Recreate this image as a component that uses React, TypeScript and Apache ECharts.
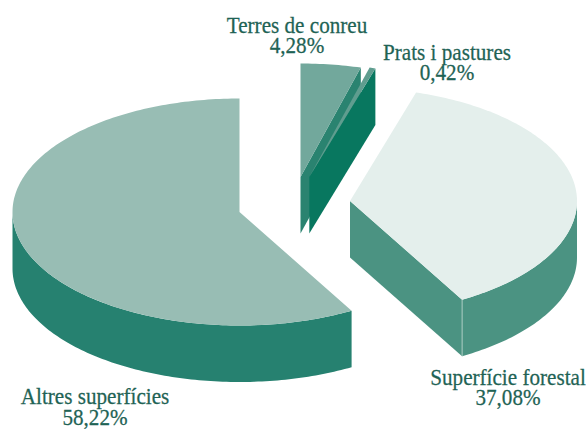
import React, { useEffect, useRef } from "react";
import * as echarts from "echarts";

const categories = ["Terres de conreu", "Prats i pastures", "Superfície forestal", "Altres superfícies"];
const values = [4.28, 0.42, 37.08, 58.22];
const percentLabels = ["4,28%", "0,42%", "37,08%", "58,22%"];

const centers = [[300.5, 177], [309.3, 177], [350, 201], [239.5, 212]];
const topColors = ["#72a89c", "#5f9d8f", "#e4efec", "#98bdb4"];
const wallColors = ["#2a8370", "#08775f", "#4b9382", "#268170"];
const labelBoxes = [[297, 35], [447, 62], [508, 387], [95, 406.5]];

const RX = 227;
const RY = 113.5;
const DEPTH = 56.5;
const TOTAL = values.reduce((a, b) => a + b, 0);

const rad = (d: number) => (d * Math.PI) / 180;
const pt = (c: number[], deg: number, dy = 0) => [
  c[0] + RX * Math.sin(rad(deg)),
  c[1] - RY * Math.cos(rad(deg)) + dy,
];
const arc = (c: number[], a: number, b: number, dy = 0) => {
  const out: number[][] = [];
  const n = Math.max(2, Math.ceil((b - a) / 1));
  for (let i = 0; i <= n; i++) out.push(pt(c, a + ((b - a) * i) / n, dy));
  return out;
};

export default function App() {
  const ref = useRef<HTMLDivElement>(null);
  useEffect(() => {
    const chart = echarts.init(ref.current!, undefined, { renderer: "svg" });
    const renderItem = (params: any, api: any) => {
      const i = params.dataIndex;
      const before = values.slice(0, i).reduce((a, b) => a + b, 0);
      const start = (before / TOTAL) * 360;
      const end = start + (api.value(0) / TOTAL) * 360;
      const c = centers[i];
      const children: any[] = [];
      const wallStyle = { fill: wallColors[i] };
      const wallA = Math.max(start, 90);
      const wallB = Math.min(end, 270);
      if (wallB > wallA) {
        children.push({
          type: "polygon",
          shape: { points: [...arc(c, wallA, wallB), ...arc(c, wallA, wallB, DEPTH).reverse()] },
          style: wallStyle,
        });
      }
      if (Math.sin(rad(end)) > 0.001) {
        const e = pt(c, end);
        children.push({
          type: "polygon",
          shape: { points: [c, e, [e[0], e[1] + DEPTH], [c[0], c[1] + DEPTH]] },
          style: wallStyle,
        });
        if (end > 90) {
          children.push({
            type: "line",
            shape: { x1: e[0], y1: e[1], x2: e[0], y2: e[1] + DEPTH },
            style: { stroke: "#a9cbc2", lineWidth: 1 },
          });
        }
      }
      children.push({
        type: "polygon",
        shape: { points: [c, ...arc(c, start, end)] },
        style: { fill: topColors[i] },
      });
      return { type: "group", children };
    };
    chart.setOption({
      animation: false,
      backgroundColor: "#ffffff",
      series: [
        {
          type: "custom",
          coordinateSystem: "none",
          renderItem,
          data: values.map((v, i) => ({ name: categories[i], value: [v] })),
          silent: true,
        },
      ],
      graphic: categories.map((name, i) => ({
        type: "text",
        x: labelBoxes[i][0],
        y: labelBoxes[i][1],
        scaleX: 0.92,
        style: {
          text: name + "\n" + percentLabels[i],
          fill: "#1f6355",
          stroke: "#1f6355",
          lineWidth: 0.25,
          font: '23px "Liberation Serif"',
          lineHeight: 20.5,
          align: "center",
          verticalAlign: "middle",
        },
      })),
    });
    return () => chart.dispose();
  }, []);
  return <div ref={ref} style={{ position: "absolute", left: 0, top: 0, width: 586, height: 429 }} />;
}
